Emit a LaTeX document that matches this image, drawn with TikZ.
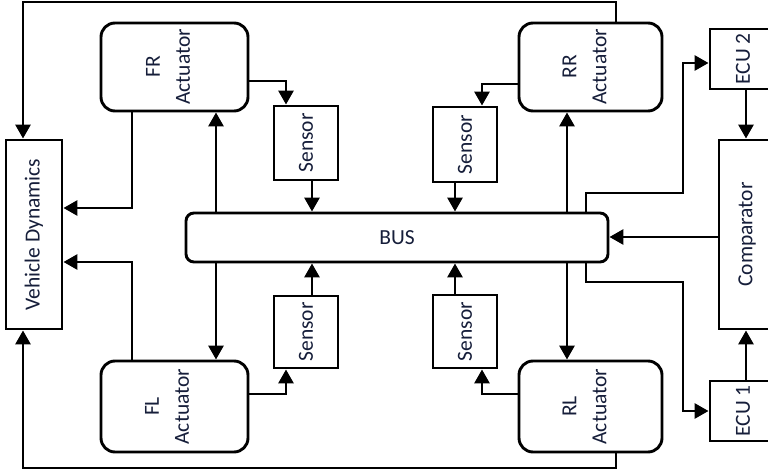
\documentclass[tikz,border=0pt]{standalone}
\usepackage{fontspec}
\setmainfont{Carlito}
\usetikzlibrary{arrows.meta}
\definecolor{txt}{RGB}{22,30,58}
\begin{document}
\begin{tikzpicture}[x=1pt,y=-1pt,
  box/.style={draw=black,line width=2.9pt,inner sep=0pt,font=\fontsize{21.5}{30}\selectfont,text=txt},
  act/.style={box,rounded corners=14pt},
  lbl/.style={inner sep=0pt,rotate=90,align=center,font=\fontsize{21.5}{30}\selectfont,text=txt},
  arr/.style={line width=2.9pt,-{Triangle[length=14pt,width=15pt]}},
  ln/.style={line width=2.9pt}]
\useasboundingbox (0,0) rectangle (768,470);
\clip (0,0) rectangle (768,470);
\fill[white] (0,0) rectangle (768,470);
% nodes
\node[box,minimum width=56pt,minimum height=189pt] (vd) at (34,234.5) {};
\node[lbl] (vdt) at (vd.center) {Vehicle Dynamics};
\node[act,minimum width=147pt,minimum height=88pt] (fr) at (174.5,67) {};
\node[lbl] (frt) at (168,67) {FR\\Actuator};
\node[act,minimum width=147pt,minimum height=91pt] (fl) at (174.5,406.5) {};
\node[lbl] (flt) at (167,406.5) {FL\\Actuator};
\node[act,minimum width=143pt,minimum height=88pt] (rr) at (590.5,67) {};
\node[lbl] (rrt) at (584.5,67) {RR\\Actuator};
\node[act,minimum width=143pt,minimum height=91pt] (rl) at (590.5,406.5) {};
\node[lbl] (rlt) at (584.5,406.5) {RL\\Actuator};
\node[box,minimum width=64pt,minimum height=74pt] (s1) at (306,143) {};
\node[lbl] (s1t) at (s1.center) {Sensor};
\node[box,minimum width=64pt,minimum height=72pt] (s2) at (306,332) {};
\node[lbl] (s2t) at (s2.center) {Sensor};
\node[box,minimum width=64pt,minimum height=75pt] (s3) at (465,144.5) {};
\node[lbl] (s3t) at (s3.center) {Sensor};
\node[box,minimum width=64pt,minimum height=73pt] (s4) at (465,331.5) {};
\node[lbl] (s4t) at (s4.center) {Sensor};
\node[box,rounded corners=8pt,minimum width=422pt,minimum height=49pt] (bus) at (397,237.5) {BUS};
\node[box,minimum width=66pt,minimum height=60pt] (ecu2) at (743,59) {};
\node[lbl] (ecu2t) at (ecu2.center) {ECU 2};
\node[box,minimum width=56pt,minimum height=189pt] (cmp) at (747,234.5) {};
\node[lbl] (cmpt) at (cmp.center) {Comparator};
\node[box,minimum width=66pt,minimum height=60pt] (ecu1) at (743,411) {};
\node[lbl] (ecu1t) at (ecu1.center) {ECU 1};
% outer loops
\coordinate (tl) at (23,2);
\coordinate (tr) at (616,2);
\coordinate (bl) at (23,468);
\coordinate (br) at (616,468);
\draw[arr] (tr |- rr.north) -- (tr) -- (tl) -- (tl |- vd.north);
\draw[arr] (br |- rl.south) -- (br) -- (bl) -- (bl |- vd.south);
% actuators to vehicle dynamics
\draw[arr] (fr.south -| 132,0) |- (vd.east |- 0,208);
\draw[arr] (fl.north -| 132,0) |- (vd.east |- 0,262);
% actuators to sensors
\draw[arr] (fr.east |- 0,81) -| (s1.north -| 286,0);
\draw[arr] (fl.east |- 0,394) -| (s2.south -| 286,0);
\draw[arr] (rr.west |- 0,84) -| (s3.north -| 482,0);
\draw[arr] (rl.west |- 0,394) -| (s4.south -| 482,0);
% sensors to bus
\draw[arr] (s1.south -| 312,0) -- (bus.north -| 312,0);
\draw[arr] (s2.north -| 312,0) -- (bus.south -| 312,0);
\draw[arr] (s3.south -| 455,0) -- (bus.north -| 455,0);
\draw[arr] (s4.north -| 455,0) -- (bus.south -| 455,0);
% bus to actuators
\draw[arr] (bus.north -| 216,0) -- (fr.south -| 216,0);
\draw[arr] (bus.south -| 216,0) -- (fl.north -| 216,0);
\draw[arr] (bus.north -| 567,0) -- (rr.south -| 567,0);
\draw[arr] (bus.south -| 567,0) -- (rl.north -| 567,0);
% bus to ECUs
\draw[arr] (bus.north -| 586,0) |- (683,193) |- (ecu2.west |- 0,63);
\draw[arr] (bus.south -| 586,0) |- (683,282) |- (ecu1.west |- 0,411);
% ECUs to comparator
\draw[arr] (ecu2.south -| 746,0) -- (cmp.north -| 746,0);
\draw[arr] (ecu1.north -| 746,0) -- (cmp.south -| 746,0);
% comparator to bus
\draw[arr] (cmp.west |- 0,237) -- (bus.east |- 0,237);
\end{tikzpicture}
\end{document}
